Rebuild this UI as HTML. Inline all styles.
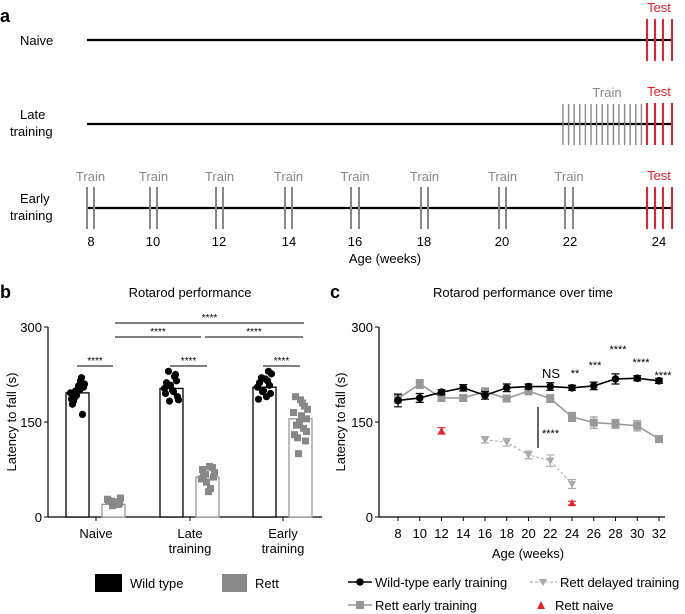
<!DOCTYPE html>
<html><head><meta charset="utf-8"><style>
body{margin:0;background:#fff;}
svg{display:block;font-family:"Liberation Sans",Arial,sans-serif;}
</style></head><body>
<svg id="fig" width="685" height="614" viewBox="0 0 685 614"></svg>
<script>
// ---- Panel a data ----
const trainWeeks=[8,10,12,14,16,18,20,22];
const trainX=[[87,94],[150,157],[216,223],[285,292],[351,359],[421,428],[499,506],[565,573]];
const weekLabels=["8","10","12","14","16","18","20","22","24"];
const weekLabelX=[91,153,219,289,355,424,502,570,659];
// ---- Panel b data ----
const bCategories=["Naive","Late training","Early training"];
const bWT=[196,203,205];
const bRett=[20,63,155];
const bWTpts=[[196,220,188,205,178,200,210,192,215,186,162,199,207,183],[203,225,230,190,212,198,185,208,222,195,215,183,200],[205,230,220,195,212,190,226,200,215,186,208,198,218]];
const bRettPts=[[22,26,20,30,18,24,28,20,25,22],[63,75,80,70,55,45,60,78,68,40,65],[155,190,180,170,150,140,130,120,100,160,145,185,135,165,175,125]];
const bTicks=[0,150,300];
// ---- Panel c data ----
const cWeeks=[8,10,12,14,16,18,20,22,24,26,28,30,32];
const wtMean=[184,188,197,204,192,204,206,206,204,207,218,219,215];
const wtErr=[10,7,4,5,6,6,4,6,4,6,8,4,4];
const rettMean=[187,210,188,188,198,187,199,187,158,149,147,144,123];
const rettErr=[7,7,5,5,6,5,6,6,7,9,7,8,4];
const delWeeks=[16,18,20,22,24];
const delMean=[122,118,98,89,52];
const delErr=[5,6,6,9,7];
const naiveWeeks=[12,24];
const naiveMean=[136,22];
const naiveErr=[5,3];
const cTicks=[0,150,300];

const NS="http://www.w3.org/2000/svg";
const svg=document.getElementById('fig');
function el(tag,attrs,parent){const e=document.createElementNS(NS,tag);for(const k in attrs)e.setAttribute(k,attrs[k]);(parent||svg).appendChild(e);return e;}
function txt(s,x,y,attrs,parent){const t=el('text',Object.assign({x:x,y:y,'font-size':13,fill:'#000'},attrs||{}),parent);t.textContent=s;return t;}

// ===== Panel a =====
const ga=el('g',{});


let t=txt('a',0,22,{'font-size':18,'font-weight':'bold'},ga);

const rows=[{y:40,lbl:['Naive']},{y:124,lbl:['Late','training']},{y:208,lbl:['Early','training']}];
const redX=[647,655,663,672];
rows.forEach((r,i)=>{
  const l=el('line',{x1:87,x2:672,y1:r.y,y2:r.y,stroke:'#000','stroke-width':2.2},ga);
  
  
  r.lbl.forEach((s,j)=>{const tt=txt(s,r.lbl.length==1?20:(j==0?20:10),r.y-(r.lbl.length==1?-5:(j==0?5:-12)),{},ga);
    });
  redX.forEach(x=>{const rl=el('line',{x1:x,x2:x,y1:r.y-21,y2:r.y+21,stroke:'#e8202a','stroke-width':2},ga);
    });
  const tl=txt('Test',659,r.y-28,{fill:'#e8202a','text-anchor':'middle'},ga);
  
});
for(let k=0;k<15;k++){const x=563+k*5.6;const gl=el('line',{x1:x,x2:x,y1:104,y2:145,stroke:'#888','stroke-width':1.4},ga);
  }
t=txt('Train',607,97,{fill:'#888','text-anchor':'middle'},ga);
trainX.forEach(p=>{p.forEach(x=>{const gl=el('line',{x1:x,x2:x,y1:187,y2:229,stroke:'#888','stroke-width':2},ga);
  });
  const tl=txt('Train',(p[0]+p[1])/2,181,{fill:'#888','text-anchor':'middle'},ga);
  });
weekLabels.forEach((s,i)=>{const tl=txt(s,weekLabelX[i],246,{'text-anchor':'middle'},ga);
  });
t=txt('Age (weeks)',385,263,{'text-anchor':'middle'},ga);

// ===== Panel b =====
const gb=el('g',{});


const bX0=48,bX1=322,bY0=517,bY300=327;
const by=v=>bY0-(v/300)*(bY0-bY300);
const bCenter=[96,190,283];
t=txt('b',0,298,{'font-size':18,'font-weight':'bold'},gb);
t=txt('Rotarod performance',190,297,{'text-anchor':'middle'},gb);
let ax=el('line',{x1:bX0,x2:bX0,y1:by(300),y2:bY0,stroke:'#000','stroke-width':1.2},gb);
ax=el('line',{x1:bX0,x2:bX1,y1:bY0,y2:bY0,stroke:'#000','stroke-width':1.2},gb);
bTicks.forEach(v=>{const tk=el('line',{x1:bX0-4,x2:bX0,y1:by(v),y2:by(v),stroke:'#000'},gb);
  const tl=txt(String(v),bX0-6,by(v)+5,{'text-anchor':'end'},gb);});
t=txt('Latency to fall (s)',0,0,{'text-anchor':'middle',transform:'translate(16,422) rotate(-90)'},gb);
const seed=[-7,4,-3,6,-5,2,7,-1,3,-6,5,-2,1,-4,0,6];
bCategories.forEach((c,i)=>{
  const cx=bCenter[i];
  const tk=el('line',{x1:cx,x2:cx,y1:bY0,y2:bY0+4,stroke:'#000'},gb);
  const words=c.split(' ');
  words.forEach((w,j)=>{const tl=txt(w,cx,538+j*15,{'text-anchor':'middle'},gb);});
  const wx=cx-30,rx=cx+6;
  const b1=el('rect',{x:wx,y:by(bWT[i]),width:23,height:bY0-by(bWT[i]),fill:'#fff',stroke:'#000','stroke-width':1.3},gb);
  
  const b2=el('rect',{x:rx,y:by(bRett[i]),width:23,height:bY0-by(bRett[i]),fill:'#fff',stroke:'#999','stroke-width':1.3},gb);
  
  bWTpts[i].forEach((v,k)=>{const d=el('circle',{cx:wx+11.5+seed[k%seed.length],cy:by(v),r:3.6,fill:'#000'},gb);
    });
  bRettPts[i].forEach((v,k)=>{const d=el('rect',{x:rx+11.5+seed[(k+3)%seed.length]-3.5,y:by(v)-3.5,width:7,height:7,fill:'#888'},gb);
    });
});
const sig=[[115,304,323],[115,201,337],[205,303,337],[77,113,366],[170,207,366],[263,300,366]];
sig.forEach(s=>{const l=el('line',{x1:s[0],x2:s[1],y1:s[2],y2:s[2],stroke:'#000'},gb);
  const tl=txt('****',(s[0]+s[1])/2,s[2]-2,{'text-anchor':'middle','font-size':10},gb);});
let lg=el('rect',{x:95,y:574,width:27,height:18,fill:'#000'},gb);
t=txt('Wild type',130,588,{},gb);
lg=el('rect',{x:222,y:574,width:25,height:18,fill:'#888'},gb);
t=txt('Rett',255,588,{},gb);

// ===== Panel c =====
const gc=el('g',{});


const cX0=379,cX1=665,cY0=517,cY300=327;
const cx=w=>398+(w-8)*(261/24);
const cy=v=>cY0-(v/300)*(cY0-cY300);
t=txt('c',330,298,{'font-size':18,'font-weight':'bold'},gc);
t=txt('Rotarod performance over time',523,297,{'text-anchor':'middle'},gc);
ax=el('line',{x1:cX0,x2:cX0,y1:cy(300),y2:cY0,stroke:'#000','stroke-width':1.2},gc);
ax=el('line',{x1:cX0,x2:cX1,y1:cY0,y2:cY0,stroke:'#000','stroke-width':1.2},gc);
cTicks.forEach(v=>{const tk=el('line',{x1:cX0-4,x2:cX0,y1:cy(v),y2:cy(v),stroke:'#000'},gc);
  const tl=txt(String(v),cX0-6,cy(v)+5,{'text-anchor':'end'},gc);});
cWeeks.forEach(w=>{const tk=el('line',{x1:cx(w),x2:cx(w),y1:cY0,y2:cY0+4,stroke:'#000'},gc);
  const tl=txt(String(w),cx(w),538,{'text-anchor':'middle'},gc);});
t=txt('Latency to fall (s)',0,0,{'text-anchor':'middle',transform:'translate(345,422) rotate(-90)'},gc);
t=txt('Age (weeks)',528,558,{'text-anchor':'middle'},gc);
function errbars(ws,m,e,color,name){ws.forEach((w,i)=>{const x=cx(w);
  const p=el('path',{d:`M${x},${cy(m[i]-e[i])}V${cy(m[i]+e[i])}M${x-4},${cy(m[i]-e[i])}H${x+4}M${x-4},${cy(m[i]+e[i])}H${x+4}`,stroke:color,'stroke-width':1.2,fill:'none'},gc);
  });}
function line(ws,m,color,dash,name){const d=ws.map((w,i)=>(i?'L':'M')+cx(w)+','+cy(m[i])).join('');
  const p=el('path',{d:d,stroke:color,'stroke-width':dash?1:1.6,fill:'none','stroke-dasharray':dash||'none'},gc);
  }
errbars(cWeeks,rettMean,rettErr,'#999','rett-early');
line(cWeeks,rettMean,'#999',null,'rett-early');
cWeeks.forEach((w,i)=>{const r=el('rect',{x:cx(w)-4,y:cy(rettMean[i])-4,width:8,height:8,fill:'#999'},gc);
  });
errbars(cWeeks,wtMean,wtErr,'#000','wild-type');
line(cWeeks,wtMean,'#000',null,'wild-type');
cWeeks.forEach((w,i)=>{const c=el('circle',{cx:cx(w),cy:cy(wtMean[i]),r:3.8,fill:'#000'},gc);
  });
errbars(delWeeks,delMean,delErr,'#aaa','rett-delayed');
line(delWeeks,delMean,'#aaa','3,2','rett-delayed');
delWeeks.forEach((w,i)=>{const x=cx(w),y=cy(delMean[i]);const p=el('path',{d:`M${x-4},${y-3}H${x+4}L${x},${y+4}Z`,fill:'#aaa'},gc);
  });
errbars(naiveWeeks,naiveMean,naiveErr,'#e8202a','rett-naive');
naiveWeeks.forEach((w,i)=>{const x=cx(w),y=cy(naiveMean[i]);const p=el('path',{d:`M${x-3.5},${y+3}H${x+3.5}L${x},${y-4}Z`,fill:'#e8202a'},gc);
  });
const ann=[['NS',551,378,13],['**',575,377,11],['***',595,369,11],['****',618,353,11],['****',641,366,11],['****',663,379,11]];
ann.forEach(a=>{const tl=txt(a[0],a[1],a[2],{'text-anchor':'middle','font-size':a[3]},gc);});
let vl=el('line',{x1:538,x2:538,y1:407,y2:448,stroke:'#000','stroke-width':1.2},gc);
t=txt('****',542,437,{'font-size':11},gc);
// legend
let L=el('line',{x1:348,x2:372,y1:582,y2:582,stroke:'#000','stroke-width':1.6},gc);
L=el('circle',{cx:360,cy:582,r:3.8,fill:'#000'},gc);
t=txt('Wild-type early training',375,587,{},gc);
L=el('line',{x1:530,x2:557,y1:582,y2:582,stroke:'#aaa','stroke-dasharray':'3,2'},gc);
L=el('path',{d:'M539,579H547L543,586Z',fill:'#aaa'},gc);
t=txt('Rett delayed training',560,587,{},gc);
L=el('line',{x1:348,x2:372,y1:605,y2:605,stroke:'#999','stroke-width':1.6},gc);
L=el('rect',{x:356,y:601,width:8,height:8,fill:'#999'},gc);
t=txt('Rett early training',375,610,{},gc);
L=el('path',{d:'M537,609H545L541,601Z',fill:'#e8202a'},gc);
t=txt('Rett naive',555,610,{},gc);
</script>
</body></html>
